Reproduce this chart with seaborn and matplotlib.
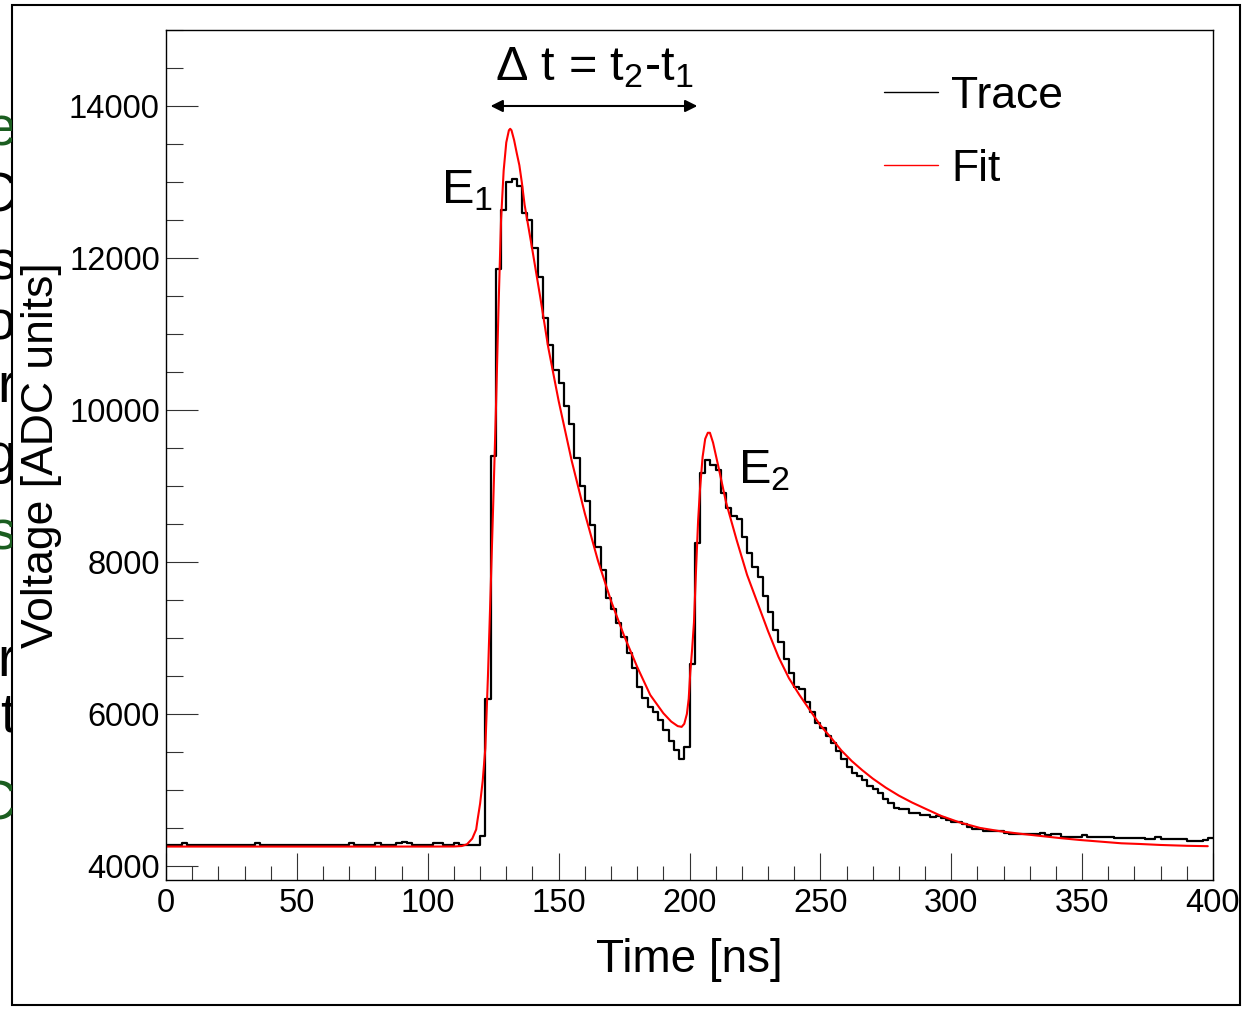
import numpy as np
import pandas as pd
import matplotlib
matplotlib.use("Agg")
import matplotlib.pyplot as plt
import seaborn as sns
from matplotlib.lines import Line2D
from matplotlib.patches import Rectangle
from matplotlib.transforms import Bbox
from matplotlib.ticker import MultipleLocator

# -----------------------------
# Data
# -----------------------------

# trace: 2 ns bins from 0 to 400 ns, ADC value per bin
bin_width = 2
trace_adc = [
    4280, 4280, 4280, 4300, 4280, 4280, 4280, 4280, 4280, 4280,
    4280, 4280, 4280, 4280, 4280, 4280, 4280, 4300, 4280, 4280,
    4280, 4280, 4280, 4280, 4280, 4280, 4280, 4280, 4280, 4280,
    4280, 4280, 4280, 4280, 4280, 4300, 4280, 4280, 4280, 4280,
    4300, 4280, 4280, 4280, 4300, 4310, 4300, 4280, 4280, 4280,
    4280, 4300, 4300, 4280, 4280, 4300, 4280, 4280, 4280, 4280,
    4400, 6200, 9400, 11850, 12630, 13000, 13040, 12950, 12590, 12500,
    12130, 11750, 11210, 10860, 10520, 10355, 10050, 9816, 9370, 9000,
    8800, 8480, 8200, 7895, 7526, 7382, 7197, 7013, 6803, 6605,
    6355, 6210, 6092, 6026, 5921, 5789, 5645, 5526, 5408, 5566,
    6658, 8250, 9171, 9342, 9276, 9210, 8908, 8710, 8600, 8560,
    8329, 8118, 7934, 7803, 7553, 7342, 7105, 6947, 6724, 6539,
    6355, 6329, 6158, 6026, 5882, 5816, 5711, 5618, 5513, 5408,
    5303, 5224, 5184, 5132, 5053, 5013, 4961, 4882, 4829, 4763,
    4755, 4750, 4697, 4697, 4671, 4671, 4645, 4658, 4630, 4605,
    4579, 4579, 4553, 4513, 4487, 4487, 4461, 4461, 4461, 4455,
    4430, 4421, 4421, 4421, 4421, 4421, 4421, 4434, 4408, 4421,
    4421, 4385, 4382, 4382, 4382, 4408, 4382, 4382, 4382, 4382,
    4382, 4368, 4368, 4368, 4368, 4368, 4368, 4355, 4355, 4375,
    4355, 4355, 4355, 4355, 4355, 4329, 4329, 4329, 4335, 4368,
]

# fit curve sampled along its path
fit_time = [
    0, 20, 40, 60, 80, 100, 110, 113, 115, 117, 118.5, 119, 120, 121, 122,
    123, 124, 125, 126, 127, 128, 129, 130, 131, 131.5, 132, 133, 134, 135,
    136, 137, 138, 140, 143, 146, 150, 155, 160, 165, 170, 175, 180, 185,
    190, 193, 195.5, 197, 198, 199, 199.7, 200.3, 201, 201.7, 202.5, 203.3,
    204, 205, 206, 207, 207.8, 209, 211, 214, 218, 222, 226, 230, 234, 238,
    242, 246, 250, 254, 258, 262, 266, 270, 275, 280, 285, 290, 296, 303,
    311, 319, 326, 334, 342, 349, 357, 365, 372, 380, 390, 398,
]
fit_adc = [
    4255, 4255, 4255, 4255, 4255, 4255, 4256, 4262, 4285, 4360, 4480, 4600,
    4820, 5120, 5550, 6500, 7600, 8750, 9950, 11300, 12500, 13150, 13520,
    13680, 13700, 13680, 13550, 13380, 13220, 12980, 12700, 12500, 12100,
    11480, 10830, 10120, 9330, 8640, 8020, 7490, 7030, 6620, 6250, 6010,
    5900, 5840, 5830, 5870, 6000, 6200, 6550, 6850, 7200, 7900, 8550, 8950,
    9380, 9620, 9700, 9700, 9570, 9260, 8780, 8290, 7830, 7460, 7090, 6750,
    6470, 6250, 6050, 5850, 5690, 5520, 5380, 5260, 5150, 5030, 4925, 4835,
    4755, 4660, 4575, 4500, 4455, 4425, 4395, 4365, 4342, 4320, 4298, 4289,
    4276, 4265, 4260,
]

# pulse markers
t1, t2 = 124, 203
e1_pos = (105, 12720)
e2_pos = (218.5, 9040)

# cut-off letters of the page next to the canvas (left margin)
margin_chars = ['e', 'C', 's', 'o', 'r', 'g', 's', 'r', 't', 'C']
margin_y_px = [132, 197, 265, 325, 388, 458, 535, 662, 718, 805]
margin_colors = ['#1b5e20', 'black', 'black', 'black', 'black', 'black',
                 '#1b5e20', 'black', 'black', '#1b5e20']

# -----------------------------
# Style
# -----------------------------

sns.set_style("white")
plt.rcParams['font.family'] = ['Liberation Sans', 'DejaVu Sans']
plt.rcParams['mathtext.fontset'] = 'custom'
plt.rcParams['mathtext.rm'] = 'Liberation Sans'
plt.rcParams['mathtext.default'] = 'regular'
plt.rcParams['text.color'] = 'black'
plt.rcParams['axes.labelcolor'] = 'black'
plt.rcParams['xtick.color'] = 'black'
plt.rcParams['ytick.color'] = 'black'

W, H = 1242, 1009
fig = plt.figure(figsize=(W / 100, H / 100), dpi=100)
ax = fig.add_axes([166/W, 1-880/H, (1213-166)/W, (880-30)/H])

# outer canvas border
fig.patches.append(Rectangle((12/W, 4/H), (1240-12)/W, (1004-4)/H,
                             transform=fig.transFigure, fill=False,
                             edgecolor='black', linewidth=1.5))

# margin letters, only their right edge shows
clip = Bbox([[0, 0], [12, H]])
for ch, yp, col in zip(margin_chars, margin_y_px, margin_colors):
    t = fig.text(16/W, 1 - yp/H, ch, fontsize=40, color=col, ha='right',
                 va='center')
    t.set_clip_box(clip)
    t.set_clip_on(True)

# -----------------------------
# Trace (step) and fit
# -----------------------------

edges = np.arange(0, 400 + bin_width, bin_width)
trace_df = pd.DataFrame({
    'time': edges,
    'adc': trace_adc + [trace_adc[-1]],
})
fit_df = pd.DataFrame({'time': fit_time, 'adc': fit_adc})

sns.lineplot(data=trace_df, x='time', y='adc', ax=ax, color='black',
             linewidth=1.6, drawstyle='steps-post', estimator=None, sort=False)
sns.lineplot(data=fit_df, x='time', y='adc', ax=ax, color='#ff0000',
             linewidth=1.5, estimator=None, sort=False)

ax.set_xlim(0, 400)
ax.set_ylim(3815, 15000)

ax.xaxis.set_major_locator(MultipleLocator(50))
ax.xaxis.set_minor_locator(MultipleLocator(10))
ax.yaxis.set_major_locator(MultipleLocator(2000))
ax.yaxis.set_minor_locator(MultipleLocator(500))

ax.tick_params(axis='x', which='major', direction='in', length=19.5, width=0.8,
               labelsize=23.5, pad=5.5, bottom=True, top=False, color='#333333')
ax.tick_params(axis='x', which='minor', direction='in', length=10, width=0.8,
               bottom=True, top=False, color='#333333')
ax.tick_params(axis='y', which='major', direction='in', length=23, width=0.8,
               labelsize=23.5, pad=4.5, left=True, right=False, color='#333333')
ax.tick_params(axis='y', which='minor', direction='in', length=12, width=0.8,
               left=True, right=False, color='#333333')

for s in ax.spines.values():
    s.set_color('black')
    s.set_linewidth(1.0)

ax.set_xlabel('Time [ns]', fontsize=33, labelpad=14)
ax.set_ylabel('Voltage [ADC units]', fontsize=32, labelpad=5)

# -----------------------------
# Annotations
# -----------------------------

ax.annotate('', xy=(t2, 14000), xytext=(t1, 14000),
            arrowprops=dict(arrowstyle='<|-|>', color='black', lw=1.5,
                            mutation_scale=18, shrinkA=0, shrinkB=0))
ax.text((t1 + t2) / 2, 14340, r'$\Delta$ t = t$_2$-t$_1$', fontsize=35,
        ha='center', va='baseline')
ax.text(e1_pos[0], e1_pos[1], r'E$_1$', fontsize=35, ha='left', va='baseline')
ax.text(e2_pos[0], e2_pos[1], r'E$_2$', fontsize=35, ha='left', va='baseline')

# -----------------------------
# Legend
# -----------------------------

handles = [Line2D([], [], color='black', lw=1.0),
           Line2D([], [], color='#ff0000', lw=1.0)]
ax.legend(handles, ['Trace', 'Fit'], loc='upper left',
          bbox_to_anchor=(0.686, 0.946), frameon=False, fontsize=32,
          handlelength=1.2, handletextpad=0.3, labelspacing=0.72,
          borderpad=0, borderaxespad=0)

fig.savefig('out.png', dpi=100)
